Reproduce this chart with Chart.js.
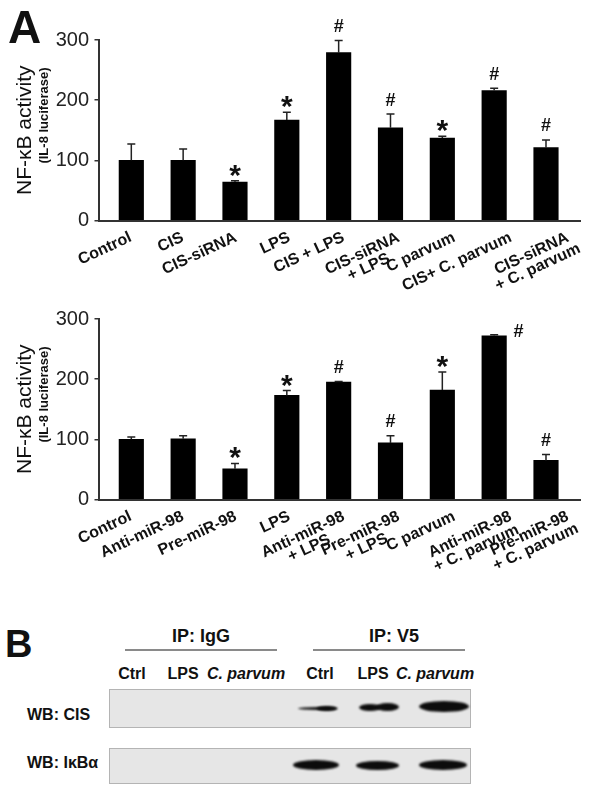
<!DOCTYPE html>
<html>
<head>
  <meta charset="utf-8">
  <title>NF-kB activity and CIS co-immunoprecipitation</title>
  <script src="https://cdn.jsdelivr.net/npm/chart.js"></script>
  <style>
    body { margin: 0; width: 602px; height: 796px; position: relative; overflow: hidden; background: #fff;
           font-family: Arial, "Liberation Sans", sans-serif; color: #111; }
    canvas.chart { position: absolute; left: 0; }
    #topChart { top: 0; }
    #bottomChart { top: 279px; }
    .t { position: absolute; white-space: nowrap; font-weight: bold; line-height: 1; }
    .c { text-align: center; }
    .rule { position: absolute; height: 2px; background: #8a8a8a; }
    .blot { position: absolute; left: 109px; width: 360px; background: #e6e6e6; border: 1px solid #b4b4b4; }
    .band { position: absolute; background: #0c0c0c; border-radius: 50%; filter: blur(0.8px); }
  </style>
</head>
<body>
  <canvas id="topChart" class="chart" width="602" height="300"></canvas>
  <canvas id="bottomChart" class="chart" width="602" height="300"></canvas>

  <!-- Panel B: western blot -->
  <div class="t" style="left:5px; top:625px; font-size:38px;">B</div>
  <div class="t c" style="left:151px; width:100px; top:627px; font-size:18px;">IP: IgG</div>
  <div class="t c" style="left:344px; width:100px; top:627px; font-size:18px;">IP: V5</div>
  <div class="rule" style="left:125px; width:152px; top:649px;"></div>
  <div class="rule" style="left:313px; width:152px; top:649px;"></div>

  <div class="t c" style="left:102px; width:60px; top:666px; font-size:16px;">Ctrl</div>
  <div class="t c" style="left:153px; width:60px; top:666px; font-size:16px;">LPS</div>
  <div class="t c" style="left:201px; width:90px; top:666px; font-size:16px; font-style:italic;">C. parvum</div>
  <div class="t c" style="left:290px; width:60px; top:666px; font-size:16px;">Ctrl</div>
  <div class="t c" style="left:343px; width:60px; top:666px; font-size:16px;">LPS</div>
  <div class="t c" style="left:390px; width:90px; top:666px; font-size:16px; font-style:italic;">C. parvum</div>

  <div class="t" style="left:27px; top:707px; font-size:16px;">WB: CIS</div>
  <div class="t" style="left:27px; top:755px; font-size:16px;">WB: IκBα</div>

  <div class="blot" style="top:689px; height:37px;">
    <div class="band" style="left:188px; top:17px; width:40px; height:3px;"></div>
    <div class="band" style="left:207px; top:16px; width:20px; height:5px;"></div>
    <div class="band" style="left:249px; top:14px; width:22px; height:7px;"></div>
    <div class="band" style="left:266px; top:13px; width:23px; height:8px;"></div>
    <div class="band" style="left:309px; top:11px; width:50px; height:11px;"></div>
  </div>
  <div class="blot" style="top:748px; height:34px;">
    <div class="band" style="left:183px; top:11px; width:46px; height:10px;"></div>
    <div class="band" style="left:246px; top:12px; width:43px; height:9px;"></div>
    <div class="band" style="left:309px; top:11px; width:48px; height:10px;"></div>
  </div>

  <script>
    // ---- data ----
    const topLabels = ['Control', 'CIS', 'CIS-siRNA', 'LPS', 'CIS + LPS',
      ['CIS-siRNA', '+ LPS'], 'C parvum', 'CIS+ C. parvum', ['CIS-siRNA', '+ C. parvum']];
    const topValues = [100, 100, 64, 167, 279, 154, 137, 216, 121];
    const topErrors = [27, 19, 2, 13, 20, 23, 3, 4, 13];
    const topMarks = ['', '', '*', '*', '#', '#', '*', '#', '#'];
    const topMarkBeside = [false, false, false, false, false, false, false, false, false];

    const bottomLabels = ['Control', 'Anti-miR-98', 'Pre-miR-98', 'LPS',
      ['Anti-miR-98', '+ LPS'], ['Pre-miR-98', '+ LPS'], 'C parvum',
      ['Anti-miR-98', '+ C. parvum'], ['Pre-miR-98', '+ C. parvum']];
    const bottomValues = [100, 101, 51, 173, 195, 94, 182, 272, 65];
    const bottomErrors = [4, 5, 9, 8, 1, 12, 30, 2, 10];
    const bottomMarks = ['', '', '*', '*', '#', '#', '*', '#', '#'];
    const bottomMarkBeside = [false, false, false, false, false, false, false, true, false];

    const yTitle = ['NF-\u03baB activity', '(IL-8 luciferase)'];
    const yMax = 300;
    const yStep = 100;

    // error bars (upper half only) drawn from the y scale
    const errorBars = {
      id: 'errorBars',
      afterDatasetsDraw(chart, args, opts) {
        const ctx = chart.ctx;
        const y = chart.scales.y;
        const meta = chart.getDatasetMeta(0);
        ctx.save();
        ctx.strokeStyle = '#222';
        ctx.lineWidth = 1.5;
        opts.errors.forEach((e, i) => {
          const bar = meta.data[i];
          const v = opts.values[i];
          const y0 = y.getPixelForValue(v);
          const y1 = y.getPixelForValue(v + e);
          ctx.beginPath();
          ctx.moveTo(bar.x, y0);
          ctx.lineTo(bar.x, y1);
          ctx.moveTo(bar.x - 4, y1);
          ctx.lineTo(bar.x + 4, y1);
          ctx.stroke();
        });
        ctx.restore();
      }
    };

    // significance marks (* and #)
    const sigMarks = {
      id: 'sigMarks',
      afterDatasetsDraw(chart, args, opts) {
        const ctx = chart.ctx;
        const y = chart.scales.y;
        const meta = chart.getDatasetMeta(0);
        ctx.save();
        ctx.fillStyle = '#111';
        ctx.textAlign = 'center';
        ctx.textBaseline = 'alphabetic';
        opts.marks.forEach((m, i) => {
          if (!m) return;
          const bar = meta.data[i];
          const cap = y.getPixelForValue(opts.values[i] + opts.errors[i]);
          let cx = bar.x, cy;
          if (opts.beside[i]) {
            cx = bar.x + bar.width / 2 + 12;
            cy = cap - 4;
          } else {
            cy = cap - (m === '*' ? 13 : 15);
          }
          if (m === '*') {
            ctx.font = 'bold 30px Arial';
            ctx.fillText(m, cx, cy + 17);
          } else {
            ctx.font = 'bold 18px Arial';
            ctx.fillText(m, cx, cy + 6.5);
          }
        });
        ctx.restore();
      }
    };

    // slanted category labels under the bars; in the original they fan out
    // a little to the right towards the end of the axis
    const slantLabels = {
      id: 'slantLabels',
      afterDraw(chart, args, opts) {
        const ctx = chart.ctx;
        const meta = chart.getDatasetMeta(0);
        const yTop = chart.chartArea.bottom + 9;
        ctx.save();
        ctx.font = 'bold 16px Arial';
        ctx.fillStyle = '#111';
        ctx.textBaseline = 'top';
        opts.labels.forEach((lab, i) => {
          const lines = [].concat(lab);
          const w1 = ctx.measureText(lines[0]).width;
          const px = meta.data[i].x - 4 + 0.35 * i * i;
          ctx.save();
          ctx.translate(px, yTop);
          ctx.rotate(-25 * Math.PI / 180);
          ctx.textAlign = 'right';
          ctx.fillText(lines[0], 0, 0);
          ctx.textAlign = 'center';
          lines.slice(1).forEach((l, k) => ctx.fillText(l, -w1 / 2, (k + 1) * 15));
          ctx.restore();
        });
        ctx.restore();
      }
    };

    // two-line y axis title, plus panel letter
    const yTitlePlugin = {
      id: 'yTitlePlugin',
      afterDraw(chart, args, opts) {
        const ctx = chart.ctx;
        const area = chart.chartArea;
        const mid = (area.top + area.bottom) / 2;
        ctx.save();
        ctx.fillStyle = '#111';
        ctx.textBaseline = 'alphabetic';
        ctx.font = '21px Arial';
        const w1 = ctx.measureText(yTitle[0]).width;
        ctx.save();
        ctx.translate(31, mid);
        ctx.rotate(-Math.PI / 2);
        ctx.textAlign = 'center';
        ctx.fillText(yTitle[0], 0, 0);
        ctx.restore();
        ctx.font = 'bold 13px Arial';
        ctx.save();
        ctx.translate(48, mid - w1 / 2 + 2);
        ctx.rotate(-Math.PI / 2);
        ctx.textAlign = 'right';
        ctx.fillText(yTitle[1], 0, 0);
        ctx.restore();
        if (opts.letter) {
          ctx.font = 'bold 46px Arial';
          ctx.textAlign = 'left';
          ctx.fillText(opts.letter, 8, 43);
        }
        ctx.restore();
      }
    };

    function makeChart(id, labels, values, errors, marks, beside, letter) {
      new Chart(document.getElementById(id), {
        type: 'bar',
        data: {
          datasets: [{
            data: values.map((v, i) => ({ x: i, y: v })),
            backgroundColor: '#000',
            borderWidth: 0,
            barThickness: 24.5
          }]
        },
        options: {
          responsive: false,
          animation: false,
          layout: { padding: { left: 38.5, right: 22, top: 40, bottom: 0 } },
          scales: {
            x: {
              type: 'linear',
              offset: false,
              min: -0.633,
              max: 8.656,
              ticks: { display: false },
              grid: { display: false },
              border: { display: true, color: '#333', width: 2 },
              afterFit(s) { s.height = 79.5; }
            },
            y: {
              min: 0,
              max: yMax,
              ticks: { stepSize: yStep, padding: 5.5, color: '#222', font: { family: 'Arial', size: 20 } },
              grid: { drawOnChartArea: false, drawTicks: true, tickLength: 4, color: '#333', lineWidth: 1.5 },
              border: { display: true, color: '#333', width: 2 },
              afterFit(s) { s.width = 60; }
            }
          },
          plugins: {
            legend: { display: false },
            tooltip: { enabled: false },
            errorBars: { values, errors },
            sigMarks: { values, errors, marks, beside },
            slantLabels: { labels },
            yTitlePlugin: { letter }
          }
        },
        plugins: [errorBars, sigMarks, slantLabels, yTitlePlugin]
      });
    }

    makeChart('topChart', topLabels, topValues, topErrors, topMarks, topMarkBeside, 'A');
    makeChart('bottomChart', bottomLabels, bottomValues, bottomErrors, bottomMarks, bottomMarkBeside, null);
  </script>
</body>
</html>
